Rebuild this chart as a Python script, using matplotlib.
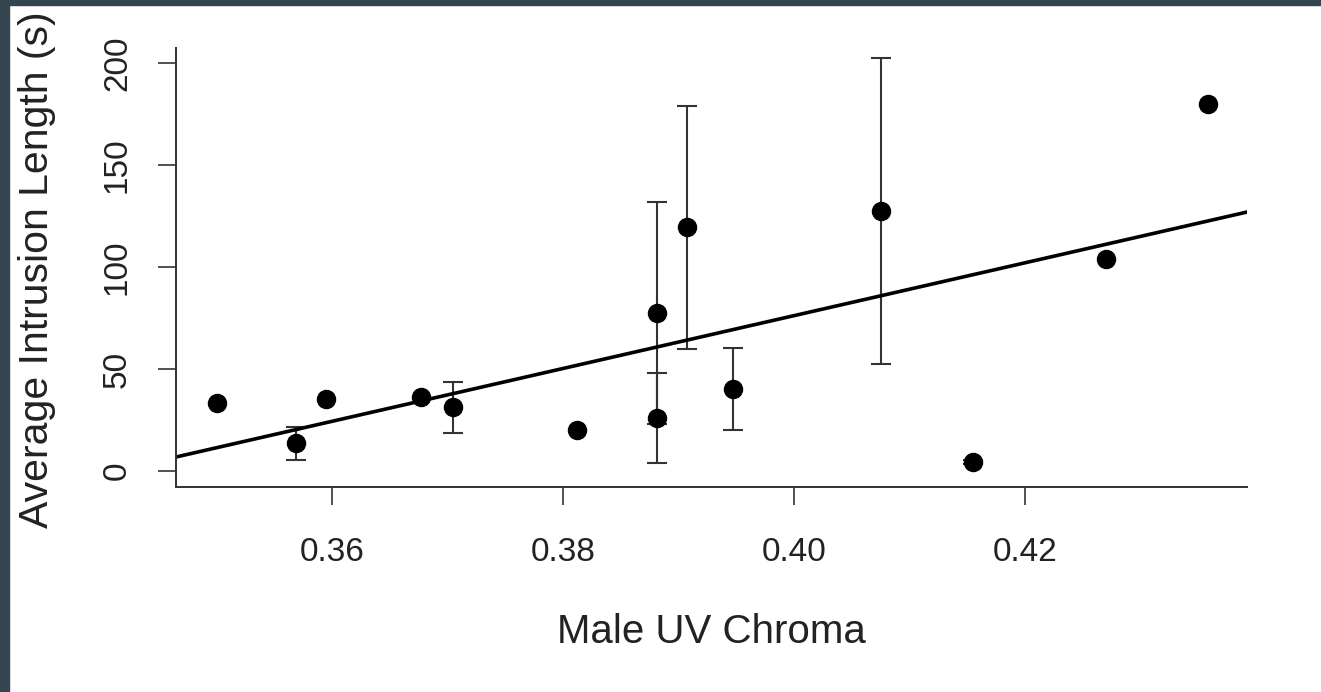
import numpy as np
import matplotlib
matplotlib.use('Agg')
import matplotlib.pyplot as plt
from matplotlib.patches import Rectangle

plt.rcParams['font.family'] = ['Liberation Sans', 'DejaVu Sans']

# male UV chroma vs average intrusion length (means, some with error bars)
chroma = [0.3500, 0.3569, 0.3595, 0.3677, 0.3705, 0.3812, 0.3881,
          0.3881, 0.3907, 0.3947, 0.4075, 0.4155, 0.4270, 0.4358]
intrusion = [33.3, 13.7, 35.3, 36.3, 31.4, 20.1, 77.5,
             26.0, 119.6, 40.2, 127.5, 4.4, 103.9, 179.9]
err = [np.nan, 8.1, np.nan, np.nan, 12.5, np.nan, 54.5,
       22.0, 59.6, 20.0, 75.0, 0.8, np.nan, np.nan]

# fitted line (abline)
intercept = -441.8
slope = 1295.0

xticks = [0.36, 0.38, 0.40, 0.42]
yticks = [0, 50, 100, 150, 200]

W, H = 1321, 692
fig = plt.figure(figsize=(W/100, H/100), dpi=100)
fig.patch.set_facecolor('white')

# dark frame strips at top and left
fig.patches.append(Rectangle((0, 1-5/H), 1, 5/H, transform=fig.transFigure,
                             color='#33454e', zorder=0))
fig.patches.append(Rectangle((0, 0), 9/W, 1, transform=fig.transFigure,
                             color='#33454e', zorder=0))

ax = fig.add_axes([176/W, 1-487/H, (1247-176)/W, (487-48)/H])
ax.set_xlim(0.34649, 0.43922)
ax.set_ylim(-7.8, 207.4)

x = np.array(chroma)
y = np.array(intrusion)
e = np.array(err)
m = ~np.isnan(e)

ax.errorbar(x[m], y[m], yerr=e[m], fmt='none', ecolor='#333333',
            elinewidth=1.5, capsize=7.5, capthick=1.5, zorder=2)
ax.plot(x, y, 'o', color='black', markersize=13, zorder=3)

xl = np.array(ax.get_xlim())
ax.plot(xl, intercept + slope*xl, color='black', lw=2.6, zorder=2)
ax.set_xlim(xl)

for s in ['top', 'right']:
    ax.spines[s].set_visible(False)
for s in ['left', 'bottom']:
    ax.spines[s].set_linewidth(1.4)
    ax.spines[s].set_color('#333333')

ax.set_xticks(xticks)
ax.set_xticklabels(['%.2f' % v for v in xticks])
ax.set_yticks(yticks)
ax.tick_params(length=13, width=1.2, color='#333333', labelsize=24,
               labelcolor='#222222')
ax.tick_params(axis='x', pad=23)
ax.tick_params(axis='y', pad=18, labelrotation=90)
for lbl in ax.get_yticklabels():
    lbl.set_va('center')

fig.text(0.5*(557+865)/W, 1-643/H, 'Male UV Chroma', ha='center',
         va='baseline', fontsize=29, color='#222222')
fig.text(37/W, 1-270/H, 'Average Intrusion Length (s)', ha='center',
         va='center', rotation=90, fontsize=29.5, color='#222222')

fig.savefig('out.png', dpi=100)
